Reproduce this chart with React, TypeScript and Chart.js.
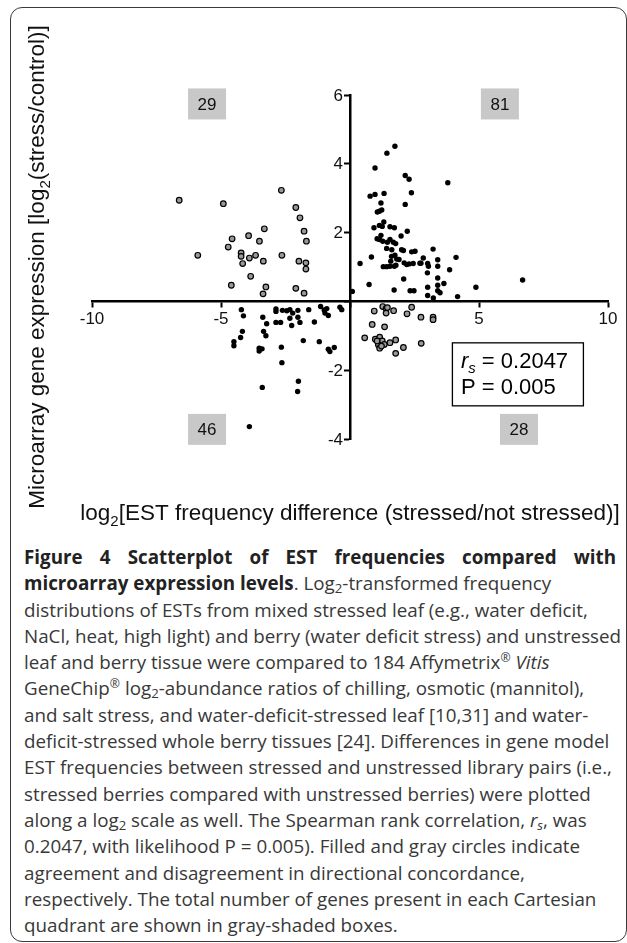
import React, { useEffect, useRef } from "react";
import { Chart, registerables } from "chart.js";

Chart.register(...registerables);

// Filled circles: agreement in directional concordance
const agreeUpperRight: [number, number][] = [
  [1.74, 4.51], [1.43, 4.31], [0.97, 3.88], [2.14, 3.66], [2.29, 3.55], [2.38, 3.16],
  [0.78, 3.06], [0.97, 3.11], [1.32, 3.14], [1.20, 2.86], [2.14, 2.82], [1.06, 2.60],
  [1.14, 2.62], [1.23, 2.66], [0.93, 2.14], [1.14, 2.21], [1.31, 2.31], [1.55, 2.17],
  [1.72, 2.14], [2.22, 2.04], [1.98, 1.90], [1.20, 1.92], [1.14, 1.80], [1.27, 1.75],
  [1.55, 1.80], [1.68, 1.72], [1.77, 1.68], [1.42, 1.54], [2.00, 1.50], [2.07, 1.48],
  [2.39, 1.44], [2.52, 1.46], [1.61, 1.31], [1.74, 1.34], [1.58, 1.17], [1.81, 1.23],
  [2.10, 1.12], [2.20, 1.07], [2.29, 1.09], [1.29, 1.01], [1.42, 1.01], [1.55, 1.02],
  [1.72, 1.02], [1.78, 1.05], [0.39, 1.10], [0.83, 1.29], [3.22, 1.52], [2.84, 1.26],
  [2.75, 1.11], [3.01, 1.10], [3.04, 1.02], [3.00, 0.83], [3.40, 1.21], [3.40, 1.02],
  [2.08, 0.65], [0.74, 0.49], [1.71, 0.33], [2.33, 0.31], [2.48, 0.31], [0.09, 0.29],
  [3.01, 0.41], [3.01, 0.17], [3.23, 0.10], [3.40, 0.68], [3.40, 0.47], [3.40, 0.31],
  [3.79, 3.45], [4.11, 1.28], [3.86, 0.92], [3.64, 0.52], [3.49, 0.25], [4.17, 0.14],
  [4.88, 0.41], [6.69, 0.62], [1.90, 1.22], [2.71, 1.11], [1.05, 1.82], [1.45, 1.72],
  [1.62, 1.50], [2.45, 1.10], [1.25, 2.18],
];

const agreeLowerLeft: [number, number][] = [
  [-4.21, -0.24], [-4.13, -0.42], [-4.50, -1.17], [-4.50, -1.29], [-4.24, -1.05],
  [-4.17, -0.87], [-3.38, -0.46], [-3.23, -0.65], [-3.35, -0.87], [-3.26, -1.00],
  [-3.52, -1.36], [-3.41, -1.38], [-3.52, -1.44], [-2.87, -0.22], [-2.87, -0.29],
  [-2.62, -0.26], [-2.87, -0.61], [-2.69, -0.61], [-2.33, -0.24], [-2.22, -0.34],
  [-2.02, -0.26], [-2.33, -0.49], [-2.02, -0.46], [-1.94, -0.61], [-2.26, -0.70],
  [-1.60, -0.24], [-1.38, -0.60], [-1.14, -0.15], [-0.90, -0.21], [-0.97, -0.34],
  [-0.84, -0.41], [-0.39, -0.17], [-0.32, -0.24], [-1.81, -1.14], [-1.19, -1.17],
  [-2.66, -1.33], [-2.64, -1.78], [-0.84, -1.39], [-0.78, -1.46], [-0.61, -1.34],
  [-3.40, -2.50], [-2.00, -2.32], [-2.03, -2.62], [-3.90, -3.64], [-2.45, -0.27],
  [-1.00, -0.25],
];

// Gray circles: disagreement in directional concordance
const disagreeUpperLeft: [number, number][] = [
  [-6.62, 2.94], [-4.91, 2.84], [-2.66, 3.23], [-2.10, 2.73], [-1.94, 2.43], [-1.78, 2.04],
  [-1.69, 1.75], [-3.32, 2.11], [-3.93, 1.91], [-3.51, 1.75], [-4.57, 1.82], [-4.72, 1.58],
  [-5.90, 1.34], [-4.22, 1.41], [-4.22, 1.31], [-4.16, 1.10], [-3.90, 1.26], [-3.66, 1.34],
  [-3.36, 1.17], [-2.64, 1.34], [-1.98, 1.17], [-1.71, 1.12], [-1.71, 0.94], [-3.85, 0.73],
  [-4.60, 0.47], [-3.26, 0.42], [-3.37, 0.22], [-2.10, 0.38], [-1.78, 0.24],
];

const disagreeLowerRight: [number, number][] = [
  [1.27, -0.15], [1.40, -0.21], [0.94, -0.28], [1.40, -0.34], [1.69, -0.27], [2.39, -0.17],
  [2.21, -0.36], [2.75, -0.46], [3.22, -0.46], [3.22, -0.53], [0.86, -0.67], [1.34, -0.74],
  [0.57, -1.06], [0.98, -1.10], [1.15, -1.04], [1.15, -1.16], [1.25, -1.15], [1.33, -1.25],
  [1.10, -1.26], [1.15, -1.36], [1.55, -1.20], [1.77, -1.12], [2.07, -1.34], [1.77, -1.51],
  [2.76, -1.22], [1.05, -1.15], [1.22, -1.30], [1.45, -0.18],
];

const xMin = -10;
const xMax = 10;
const xStep = 5;
const yMin = -4;
const yMax = 6;
const yStep = 2;

// Gray-shaded quadrant counts: upper-left, upper-right, lower-left, lower-right
const quadrantCounts = [29, 81, 46, 28];
const quadrantCountX = [-5.54, 5.81, -5.54, 6.55];
const quadrantCountY = [5.74, 5.74, -3.72, -3.72];

const spearmanR = "0.2047";
const pValue = "0.005";

const yTitleMain = "Microarray gene expression [log";
const yTitleSub = "2";
const yTitleEnd = "(stress/control)]";
const xTitleMain = "log";
const xTitleSub = "2";
const xTitleEnd = "[EST frequency difference (stressed/not stressed)]";

const FONT = '"Liberation Sans", Arial, Helvetica, sans-serif';

function drawSubText(
  ctx: CanvasRenderingContext2D,
  parts: { t: string; size: number; dy: number; italic?: boolean }[],
  x: number,
  y: number,
  align: "left" | "center"
) {
  let total = 0;
  const widths = parts.map((p) => {
    ctx.font = `${p.italic ? "italic " : ""}${p.size}px ${FONT}`;
    const w = ctx.measureText(p.t).width;
    total += w;
    return w;
  });
  let cx = align === "center" ? x - total / 2 : x;
  ctx.textAlign = "left";
  ctx.textBaseline = "alphabetic";
  parts.forEach((p, i) => {
    ctx.font = `${p.italic ? "italic " : ""}${p.size}px ${FONT}`;
    ctx.fillText(p.t, cx, y + p.dy);
    cx += widths[i];
  });
}

const overlayPlugin = {
  id: "overlay",
  afterDraw(chart: any) {
    const ctx: CanvasRenderingContext2D = chart.ctx;
    const xs = chart.scales.x;
    const ys = chart.scales.y;
    const area = chart.chartArea;
    ctx.save();

    // y tick labels (left of the centred y axis)
    const axisX = xs.getPixelForValue(0);
    ctx.fillStyle = "#111";
    ctx.font = `17px ${FONT}`;
    ctx.textAlign = "right";
    ctx.textBaseline = "middle";
    ys.ticks.forEach((t: any) => {
      if (t.label === "" || t.label == null) return;
      ctx.fillText(String(t.label), axisX - 7, ys.getPixelForValue(t.value) + 1);
    });

    // quadrant count boxes
    quadrantCounts.forEach((n, i) => {
      const cx = xs.getPixelForValue(quadrantCountX[i]);
      const cy = ys.getPixelForValue(quadrantCountY[i]);
      ctx.fillStyle = "#c8c8c8";
      ctx.fillRect(cx - 19, cy - 15.5, 38, 31);
      ctx.fillStyle = "#111";
      ctx.font = `17px ${FONT}`;
      ctx.textAlign = "center";
      ctx.textBaseline = "middle";
      ctx.fillText(String(n), cx, cy + 1);
    });

    // statistics box
    const bx = xs.getPixelForValue(3.95);
    const by = ys.getPixelForValue(-1.19);
    ctx.fillStyle = "#fff";
    ctx.fillRect(bx, by, 131, 63);
    ctx.strokeStyle = "#000";
    ctx.lineWidth = 1.3;
    ctx.strokeRect(bx + 0.5, by + 0.5, 131, 63);
    ctx.fillStyle = "#000";
    drawSubText(
      ctx,
      [
        { t: "r", size: 22, dy: 0, italic: true },
        { t: "s", size: 15, dy: 5, italic: true },
        { t: " = " + spearmanR, size: 22, dy: 0 },
      ],
      bx + 9,
      by + 26,
      "left"
    );
    drawSubText(ctx, [{ t: "P = " + pValue, size: 22, dy: 0 }], bx + 9, by + 52, "left");

    // axis titles
    ctx.fillStyle = "#111";
    drawSubText(
      ctx,
      [
        { t: xTitleMain, size: 22.5, dy: 0 },
        { t: xTitleSub, size: 15, dy: 6 },
        { t: xTitleEnd, size: 22.5, dy: 0 },
      ],
      (area.left + area.right) / 2,
      area.bottom + 81,
      "center"
    );
    ctx.translate(area.left - 48.5, (area.top + area.bottom) / 2);
    ctx.rotate(-Math.PI / 2);
    drawSubText(
      ctx,
      [
        { t: yTitleMain, size: 22.5, dy: 0 },
        { t: yTitleSub, size: 15, dy: 6 },
        { t: yTitleEnd, size: 22.5, dy: 0 },
      ],
      0,
      0,
      "center"
    );
    ctx.restore();
  },
};

const toPts = (arr: [number, number][]) => arr.map(([x, y]) => ({ x, y }));

const LINE_H = 26.3;
const capStyle: React.CSSProperties = {
  whiteSpace: "nowrap",
  height: LINE_H,
};
const sub: React.CSSProperties = { fontSize: "0.7em", verticalAlign: "-0.25em", lineHeight: 0 };
const sup: React.CSSProperties = { fontSize: "0.65em", verticalAlign: "0.55em", lineHeight: 0 };

export default function App() {
  const canvasRef = useRef<HTMLCanvasElement | null>(null);

  useEffect(() => {
    if (!canvasRef.current) return;
    const tickFont = { family: FONT, size: 17 };
    const chart = new Chart(canvasRef.current, {
      type: "scatter",
      data: {
        datasets: [
          {
            label: "agreement",
            data: toPts([...agreeUpperRight, ...agreeLowerLeft]),
            pointBackgroundColor: "#000",
            pointBorderColor: "#000",
            pointBorderWidth: 0,
            pointRadius: 2.7,
            showLine: false,
          },
          {
            label: "disagreement",
            data: toPts([...disagreeUpperLeft, ...disagreeLowerRight]),
            pointBackgroundColor: "#999",
            pointBorderColor: "#000",
            pointBorderWidth: 1.2,
            pointRadius: 2.8,
            showLine: false,
          },
        ],
      },
      options: {
        animation: false,
        responsive: false,
        events: [],
        layout: { padding: { left: 92, right: 19, top: 95, bottom: 101 } },
        plugins: { legend: { display: false }, tooltip: { enabled: false } },
        scales: {
          x: {
            type: "linear",
            position: { y: 0 } as any,
            min: xMin,
            max: xMax,
            ticks: {
              stepSize: xStep,
              color: "#111",
              font: tickFont,
              padding: 3,
              callback: (v: any) => (Number(v) === 0 ? "" : String(v)),
            },
            grid: {
              display: true,
              drawOnChartArea: false,
              drawTicks: true,
              tickLength: 5,
              tickWidth: 2,
              tickColor: "#000",
            },
            border: { display: true, color: "#000", width: 2.5 },
          },
          y: {
            type: "linear",
            position: { x: 0 } as any,
            min: yMin,
            max: yMax,
            ticks: {
              stepSize: yStep,
              color: "rgba(0,0,0,0)",
              font: tickFont,
              padding: 2,
              callback: (v: any) => (Number(v) === 0 ? "" : String(v)),
            },
            grid: {
              display: true,
              drawOnChartArea: false,
              drawTicks: true,
              tickLength: 5,
              tickWidth: 2,
              tickColor: "#000",
            },
            border: { display: true, color: "#000", width: 2.5 },
          },
        },
      },
      plugins: [overlayPlugin],
    } as any);
    return () => chart.destroy();
  }, []);

  return (
    <div style={{ position: "fixed", left: 0, top: 0, width: 627, height: 943, background: "#fff", overflow: "hidden" }}>
      <div
        style={{
          position: "absolute",
          left: 10,
          top: 7,
          width: 617,
          height: 935,
          boxSizing: "border-box",
          border: "1.5px solid #3a3a3a",
          borderRadius: 12,
        }}
      />
      <canvas ref={canvasRef} width={627} height={540} style={{ position: "absolute", left: 0, top: 0, display: "block" }} />
      <div
        style={{
          position: "absolute",
          left: 24,
          top: 544,
          width: 592,
          fontFamily: '"Open Sans", "Noto Sans", sans-serif',
          fontSize: 18.8,
          letterSpacing: 0,
          lineHeight: `${LINE_H}px`,
          color: "#383838",
        }}
      >
        <div style={{ ...capStyle, whiteSpace: "normal", textAlign: "justify", textAlignLast: "justify", fontWeight: 700, color: "#222" }}>
          Figure 4 Scatterplot of EST frequencies compared with
        </div>
        <div style={capStyle}>
          <b style={{ color: "#222" }}>microarray expression levels</b>. Log<span style={sub}>2</span>-transformed frequency
        </div>
        <div style={capStyle}>distributions of ESTs from mixed stressed leaf (e.g., water deficit,</div>
        <div style={capStyle}>NaCl, heat, high light) and berry (water deficit stress) and unstressed</div>
        <div style={capStyle}>
          leaf and berry tissue were compared to 184 Affymetrix<span style={sup}>®</span> <i>Vitis</i>
        </div>
        <div style={capStyle}>
          GeneChip<span style={sup}>®</span> log<span style={sub}>2</span>-abundance ratios of chilling, osmotic (mannitol),
        </div>
        <div style={capStyle}>and salt stress, and water-deficit-stressed leaf [10,31] and water-</div>
        <div style={capStyle}>deficit-stressed whole berry tissues [24]. Differences in gene model</div>
        <div style={capStyle}>EST frequencies between stressed and unstressed library pairs (i.e.,</div>
        <div style={capStyle}>stressed berries compared with unstressed berries) were plotted</div>
        <div style={capStyle}>
          along a log<span style={sub}>2</span> scale as well. The Spearman rank correlation, <i>r</i>
          <span style={sub}>
            <i>s</i>
          </span>
          , was
        </div>
        <div style={capStyle}>0.2047, with likelihood P = 0.005). Filled and gray circles indicate</div>
        <div style={capStyle}>agreement and disagreement in directional concordance,</div>
        <div style={capStyle}>respectively. The total number of genes present in each Cartesian</div>
        <div style={capStyle}>quadrant are shown in gray-shaded boxes.</div>
      </div>
    </div>
  );
}
